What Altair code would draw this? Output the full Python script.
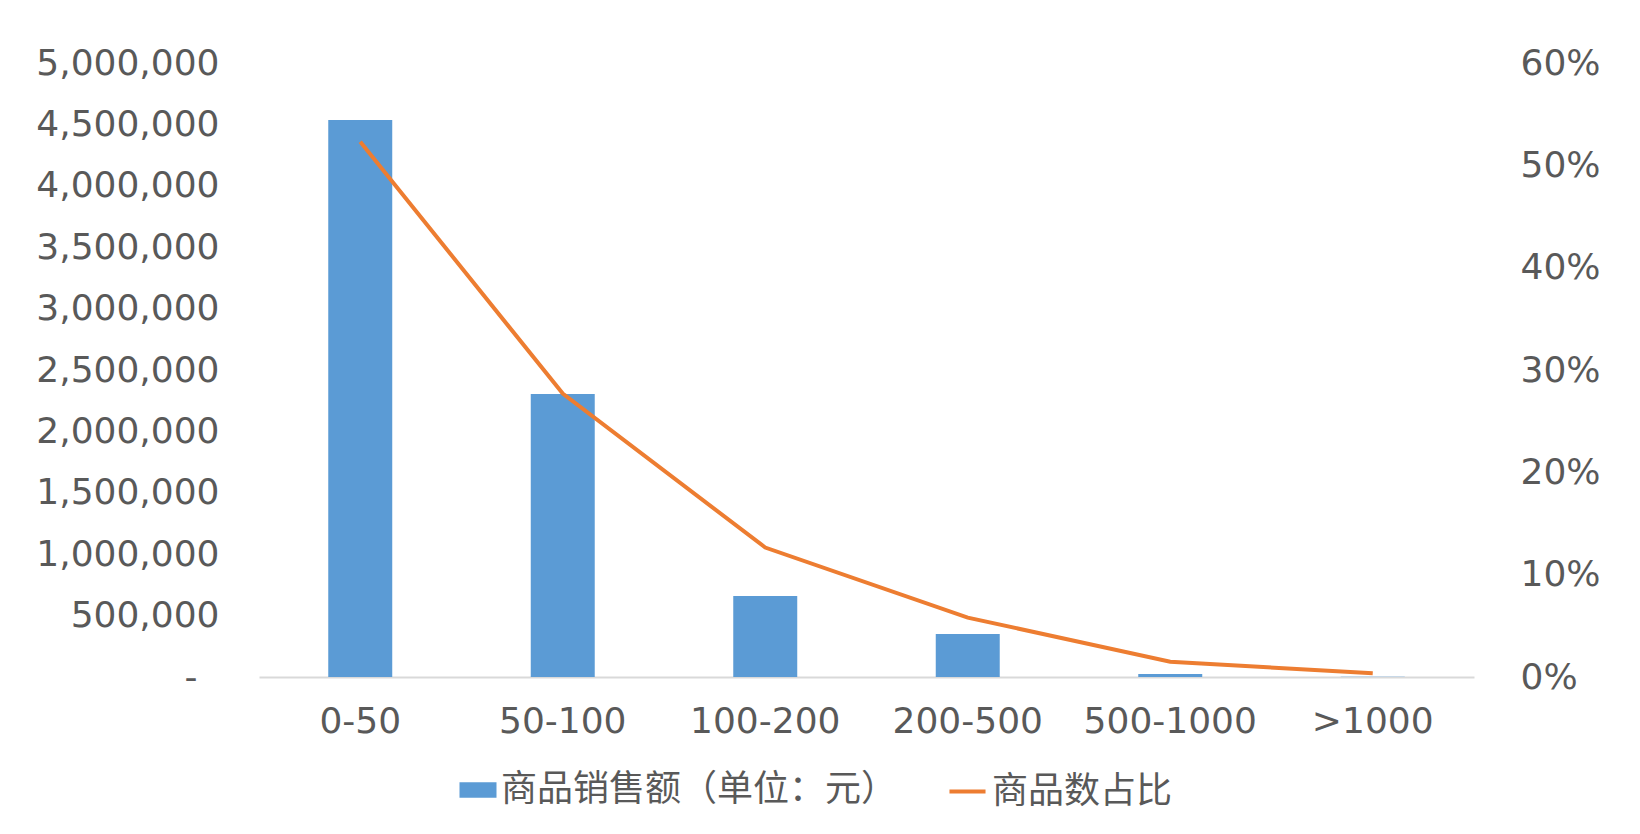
import pandas as pd
import altair as alt

FONT = "DejaVu Sans"
CJK_FONT = "Noto Sans CJK SC"
GREY = "#595959"
BLUE = "#5B9BD5"
ORANGE = "#ED7D31"

price_ranges = ["0-50", "50-100", "100-200", "200-500", "500-1000", ">1000"]
sales = [4536000, 2304000, 659000, 350000, 25000, 3000]
item_share = [0.523, 0.277, 0.1265, 0.058, 0.015, 0.0036]

SALES_NAME = "商品销售额（单位：元）"
SHARE_NAME = "商品数占比"

df = pd.DataFrame({"range": price_ranges, "sales": sales, "share": item_share})

x = alt.X(
    "range:N",
    sort=price_ranges,
    scale=alt.Scale(paddingInner=0.684, paddingOuter=0.342),
    axis=alt.Axis(
        title=None, labelAngle=0, ticks=False, labelPadding=27,
        domainColor="#d9d9d9", domainWidth=2,
    ),
)

bars = alt.Chart(df).mark_bar(color=BLUE).transform_calculate(
    series=f"'{SALES_NAME}'"
).encode(
    x=x,
    y=alt.Y(
        "sales:Q",
        scale=alt.Scale(domain=[0, 5000000]),
        axis=alt.Axis(
            title=None, orient="left", grid=False, domain=False, ticks=False,
            values=list(range(0, 5000001, 500000)),
            labelPadding={"condition": {"test": "datum.value == 0", "value": 62}, "value": 40},
            labelExpr="datum.value == 0 ? '-' : format(datum.value, ',')",
        ),
    ),
    fill=alt.Fill(
        "series:N",
        scale=alt.Scale(domain=[SALES_NAME], range=[BLUE]),
        legend=alt.Legend(
            title=None, orient="none", legendX=200, legendY=708,
            symbolType="M-1,-0.42H1V0.42H-1Z", symbolSize=1370, symbolStrokeWidth=0,
        ),
    ),
)

line = alt.Chart(df).mark_line(strokeWidth=4).transform_calculate(
    series=f"'{SHARE_NAME}'"
).encode(
    x=x,
    y=alt.Y(
        "share:Q",
        scale=alt.Scale(domain=[0, 0.6]),
        axis=alt.Axis(
            title=None, orient="right", grid=False, domain=False, ticks=False,
            values=[0, 0.1, 0.2, 0.3, 0.4, 0.5, 0.6], format=".0%", labelPadding=46,
        ),
    ),
    stroke=alt.Stroke(
        "series:N",
        scale=alt.Scale(domain=[SHARE_NAME], range=[ORANGE]),
        legend=alt.Legend(
            title=None, orient="none", legendX=688, legendY=708,
            symbolType="stroke", symbolSize=1300, symbolStrokeWidth=4,
        ),
    ),
)

chart = alt.layer(bars, line).resolve_scale(
    y="independent", fill="independent", stroke="independent"
).properties(
    width=1215,
    height=614,
    autosize=alt.AutoSizeParams(type="none"),
    padding={"left": 251, "top": 55, "right": 158, "bottom": 149},
).configure_view(
    stroke=None
).configure_axis(
    labelFont=FONT, labelFontSize=36, labelColor=GREY, labelLimit=0,
).configure_legend(
    labelFont=CJK_FONT, labelFontSize=36, labelColor=GREY, labelOffset=4,
    labelLimit=0,
)

chart.save("out.html", embed_options={"renderer": "svg", "actions": False})
